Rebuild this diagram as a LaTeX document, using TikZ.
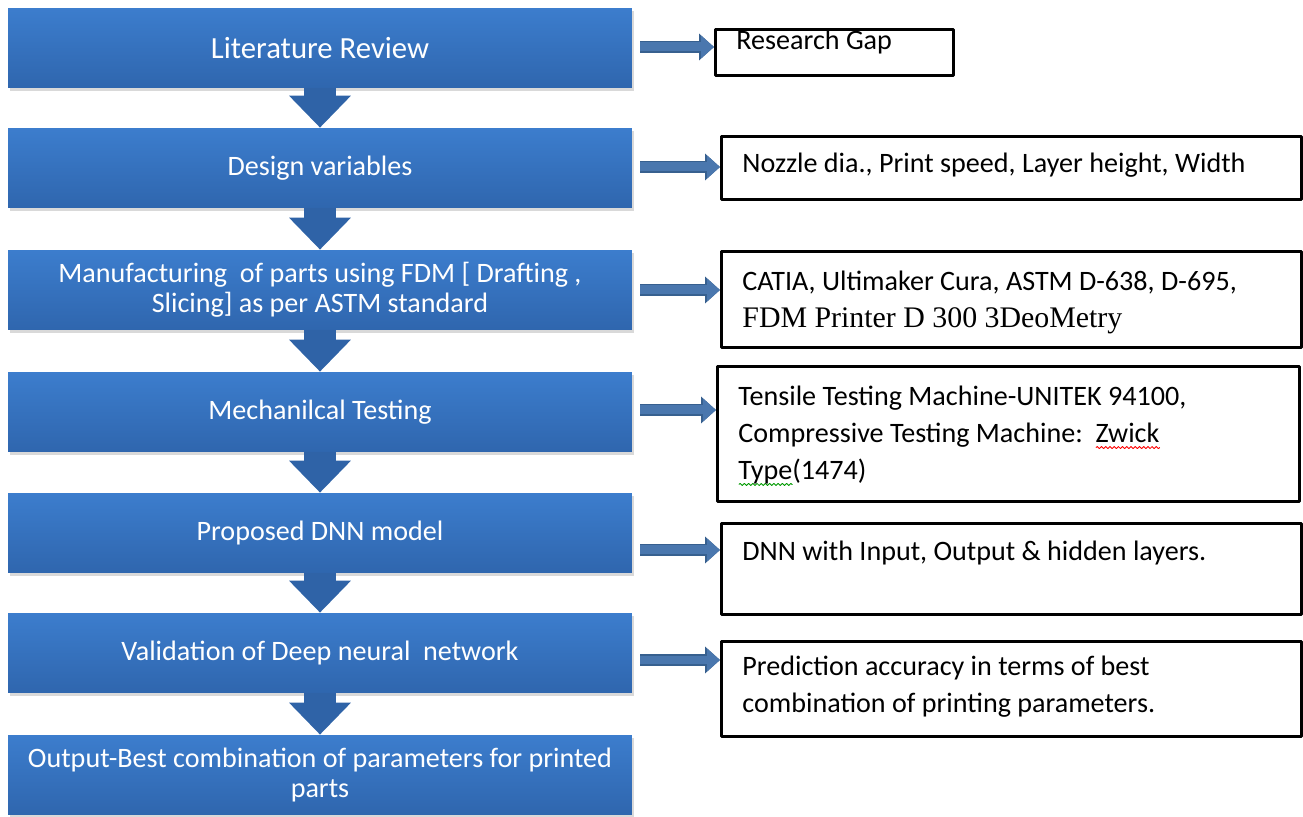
\documentclass[tikz,border=0pt]{standalone}
\usepackage{fontspec}
\setmainfont{Carlito}
\newfontfamily\timesfont{Liberation Serif}
\usetikzlibrary{arrows.meta, calc, positioning, shadows, decorations.pathmorphing}
\definecolor{stepblue}{HTML}{3C7DCD}
\definecolor{stepbluedark}{HTML}{2F66AE}
\definecolor{downblue}{HTML}{2F63A7}
\definecolor{sideblue}{HTML}{4A77AE}
\definecolor{sideedge}{HTML}{37608F}

% wavy spell-check marks
\newlength{\spellwd}
\newcommand{\spellwave}[2]{\leavevmode\settowidth{\spellwd}{#2}\rlap{\tikz[baseline=0pt]\draw[draw=#1, line width=0.5pt, decorate, decoration={snake, amplitude=0.6pt, segment length=2.4pt}] (0pt,-3pt) -- (\spellwd,-3pt);}#2}

\begin{document}
\begin{tikzpicture}[x=0.02cm, y=-0.02cm, line join=round,
  stepbox/.style={rectangle, minimum width=12.48cm, minimum height=1.6cm,
    top color=stepblue, bottom color=stepbluedark, text=white, align=center,
    font=\fontsize{16}{17}\selectfont,
    drop shadow={shadow xshift=0.04cm, shadow yshift=-0.06cm, opacity=0.3}},
  outbox/.style={draw=black, line width=1.6pt, anchor=north west, align=flush left,
    inner xsep=0.42cm, inner ysep=0pt, text width=10.76cm,
    font=\fontsize{16}{21}\selectfont,
    execute at begin node={\spaceskip=0pt\xspaceskip=0pt\relax}},
  downarrow/.style={draw=downblue, line width=0.66cm,
    -{Triangle[width=1.2cm, length=0.64cm]}},
  sidearrow/.style={draw=sideblue, line width=0.18cm,
    -{Triangle[width=0.44cm, length=0.26cm]},
    preaction={draw=sideedge, line width=0.24cm, -{Triangle[width=0.52cm, length=0.3cm]}}}]
\useasboundingbox (0,0) rectangle (1303,817);

% --- steps (left column) ---
\node[stepbox, font=\fontsize{17.5}{19}\selectfont] (lit) at (320,48) {Literature Review};
\node[stepbox] (design) at (320,168) {Design variables};
\node[stepbox] (manuf) at (320,290) {Manufacturing\ \ of parts using FDM [ Drafting ,\\ Slicing] as per ASTM standard};
\node[stepbox] (mech) at (320,412) {Mechanilcal Testing};
\node[stepbox] (dnn) at (320,533) {Proposed DNN model};
\node[stepbox] (valid) at (320,653) {Validation of Deep neural\ \ network};
\node[stepbox] (best) at (320,775) {Output-Best combination of parameters for printed\\ parts};

% --- details (right column) ---
\node[outbox, text width=3.92cm, text height=0.4cm, text depth=0.52cm] (gap) at (714,28) {Research Gap};
\node[outbox, text height=0.72cm, text depth=0.54cm] (nozzle) at (720,135) {Nozzle dia., Print speed, Layer height, Width};
\node[outbox, text height=0.78cm, text depth=1.14cm] (catia) at (720,250) {CATIA, Ultimaker Cura, ASTM D-638, D-695,\\ {\timesfont\fontsize{17}{21}\selectfont FDM Printer D 300 3DeoMetry}};
\node[outbox, text width=10.8cm, text height=0.78cm, text depth=1.92cm] (tensile) at (716,365) {Tensile Testing Machine-UNITEK 94100,\\ Compressive Testing Machine:\ \ \spellwave{red}{Zwick}\\ \spellwave{green!60!black}{Type}(1474)};
\node[outbox, text height=0.74cm, text depth=1.08cm] (dnnout) at (720,522) {DNN with Input, Output \& hidden layers.};
\node[outbox, text height=0.68cm, text depth=1.22cm] (predict) at (720,640) {Prediction accuracy in terms of best\\ combination of printing parameters.};

% --- flow arrows ---
\draw[downarrow] (lit) -- (design);
\draw[downarrow] (design) -- (manuf);
\draw[downarrow] (manuf) -- (mech);
\draw[downarrow] (mech) -- (dnn);
\draw[downarrow] (dnn) -- (valid);
\draw[downarrow] (valid) -- (best);

% --- side arrows ---
\coordinate (s1) at (640,47);
\coordinate (s2) at (640,167);
\coordinate (s3) at (640,290);
\coordinate (s4) at (640,410);
\coordinate (s5) at (640,550);
\coordinate (s6) at (640,660);
\draw[sidearrow] (s1) -- (s1 -| gap.west);
\draw[sidearrow] (s2) -- (s2 -| nozzle.west);
\draw[sidearrow] (s3) -- (s3 -| catia.west);
\draw[sidearrow] (s4) -- (s4 -| tensile.west);
\draw[sidearrow] (s5) -- (s5 -| dnnout.west);
\draw[sidearrow] (s6) -- (s6 -| predict.west);
\end{tikzpicture}
\end{document}
